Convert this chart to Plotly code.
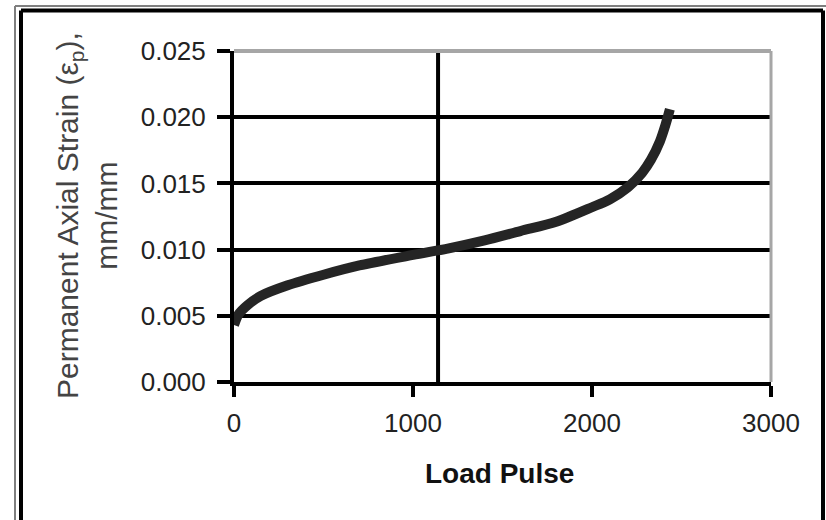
import plotly.graph_objects as go

# Data
load_pulse = [0, 25, 75, 150, 300, 500, 700, 1000, 1200, 1400, 1600, 1800,
              2000, 2100, 2200, 2280, 2330, 2380, 2410, 2435]
strain = [0.0043, 0.0051, 0.0058, 0.0065, 0.0073, 0.0081, 0.0088, 0.0096,
          0.0101, 0.0107, 0.0114, 0.0121, 0.0132, 0.0138, 0.0147, 0.0158,
          0.0168, 0.0182, 0.0194, 0.0206]
x_ticks = [0, 1000, 2000, 3000]
y_ticks = [0.000, 0.005, 0.010, 0.015, 0.020, 0.025]
y_tick_labels = ["0.000", "0.005", "0.010", "0.015", "0.020", "0.025"]
vertical_ref_x = 1140

W, H = 826, 520
L, R, T, B = 234, 771, 51, 382  # plot area in px


def px(xp):
    return (xp - L) / (R - L)


def py(yp):
    return (B - yp) / (B - T)


FONT = "Arial, Liberation Sans, sans-serif"

fig = go.Figure()
fig.add_trace(go.Scatter(
    x=load_pulse, y=strain, mode="lines",
    line=dict(color="#252525", width=10, shape="spline", smoothing=0.8),
    showlegend=False, hoverinfo="skip"))

fig.add_vline(x=vertical_ref_x, line=dict(color="black", width=4), layer="below")

shapes = [
    # plot-area top and right border (gray)
    dict(type="line", xref="paper", yref="paper", x0=0, x1=1, y0=1, y1=1,
         line=dict(color="#a6a6a6", width=4), layer="above"),
    dict(type="line", xref="paper", yref="paper", x0=1, x1=1, y0=0, y1=1,
         line=dict(color="#a6a6a6", width=3), layer="above"),
    # outer frame: gray outer line
    dict(type="line", xref="paper", yref="paper", x0=px(15), x1=px(15), y0=py(6), y1=py(530),
         line=dict(color="#7f7f7f", width=2), layer="above"),
    dict(type="line", xref="paper", yref="paper", x0=px(15), x1=px(830), y0=py(6), y1=py(6),
         line=dict(color="#7f7f7f", width=2), layer="above"),
    # outer frame: black line
    dict(type="line", xref="paper", yref="paper", x0=px(21), x1=px(21), y0=py(10.5), y1=py(530),
         line=dict(color="black", width=4), layer="above"),
    dict(type="line", xref="paper", yref="paper", x0=px(21), x1=px(823), y0=py(10.5), y1=py(10.5),
         line=dict(color="black", width=4), layer="above"),
    dict(type="line", xref="paper", yref="paper", x0=px(823), x1=px(823), y0=py(10.5), y1=py(530),
         line=dict(color="black", width=4), layer="above"),
]
for s in shapes:
    fig.add_shape(**s)

fig.add_annotation(
    xref="paper", yref="paper", x=px(87), y=py(216),
    text="Permanent Axial Strain (ε<sub>p</sub>),<br>mm/mm",
    textangle=-90, showarrow=False, xanchor="center", yanchor="middle",
    font=dict(family=FONT, size=30, color="#444444"))

fig.add_annotation(
    xref="paper", yref="paper", x=px(499), y=py(474),
    text="<b>Load Pulse</b>", showarrow=False, xanchor="center", yanchor="middle",
    font=dict(family=FONT, size=28, color="#111111"))

fig.update_layout(
    width=W, height=H,
    margin=dict(l=L, r=W - R, t=T, b=H - B),
    paper_bgcolor="white", plot_bgcolor="white",
    xaxis=dict(range=[0, 3000], tickvals=x_ticks, ticktext=[str(v) for v in x_ticks],
               showgrid=False, zeroline=False, showline=True, linecolor="black",
               linewidth=4, ticks="outside", ticklen=11, tickwidth=4, tickcolor="black",
               tickfont=dict(family=FONT, size=26, color="#222222"),
               ticklabelstandoff=4, fixedrange=True),
    yaxis=dict(range=[0, 0.025], tickvals=y_ticks, ticktext=y_tick_labels,
               showgrid=True, gridcolor="black", gridwidth=4,
               zeroline=False, showline=True, linecolor="black",
               linewidth=4, ticks="outside", ticklen=13, tickwidth=4, tickcolor="black",
               tickfont=dict(family=FONT, size=26, color="#222222"),
               ticklabelstandoff=6, fixedrange=True),
)

fig.write_html("out.html")
